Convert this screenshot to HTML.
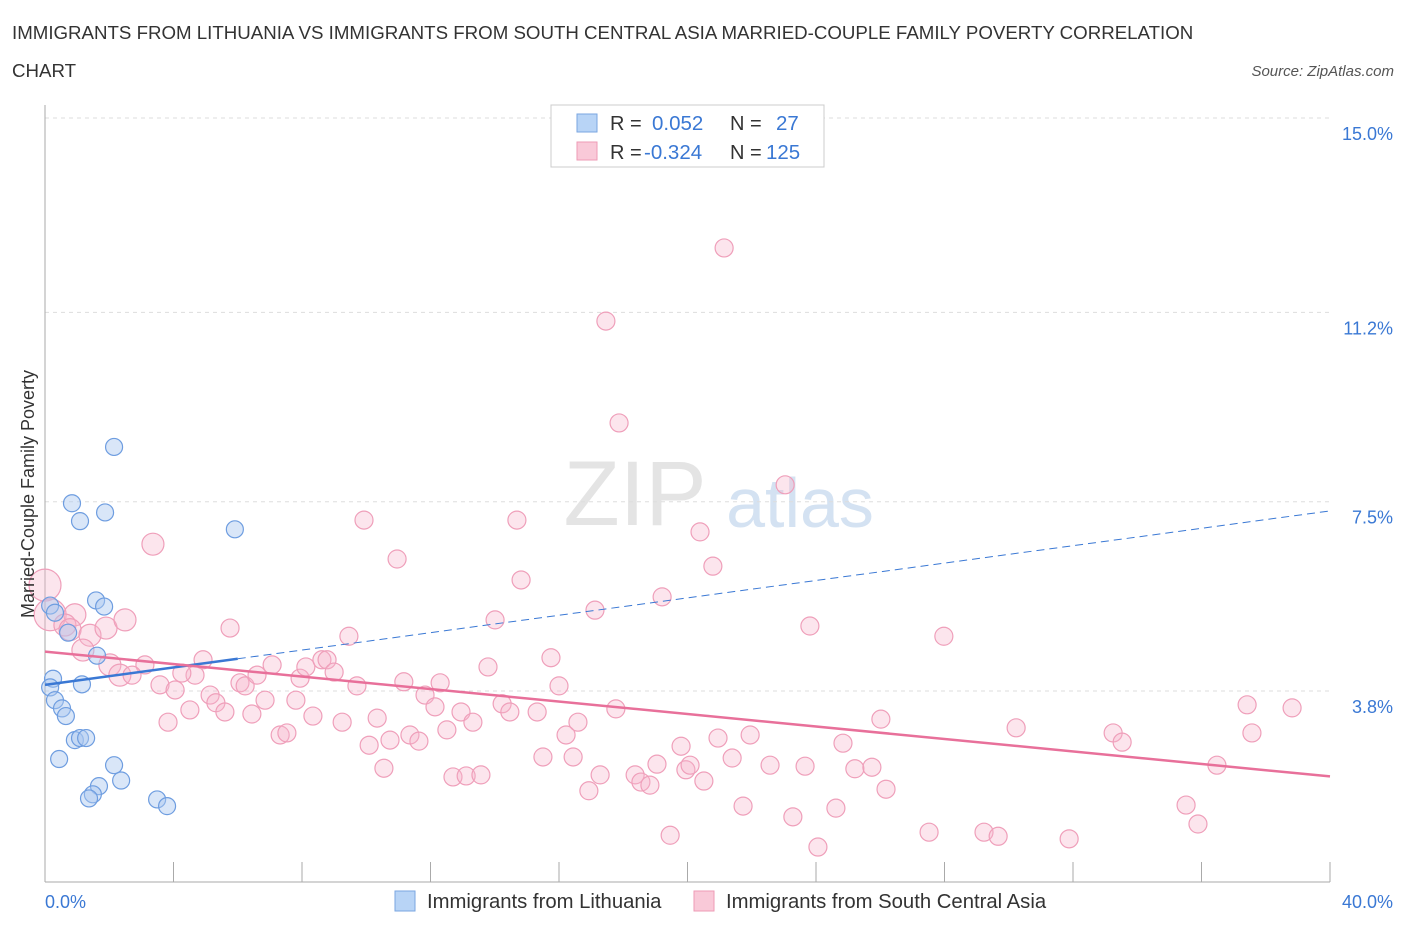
<!DOCTYPE html>
<html><head><meta charset="utf-8"><style>
body{margin:0;background:#fff;font-family:"Liberation Sans",sans-serif;}
svg text{font-family:"Liberation Sans",sans-serif;}
</style></head><body>
<svg id="chart" width="1406" height="930" xmlns="http://www.w3.org/2000/svg">
<text x="12" y="39" font-size="18.7" fill="#333">IMMIGRANTS FROM LITHUANIA VS IMMIGRANTS FROM SOUTH CENTRAL ASIA MARRIED-COUPLE FAMILY POVERTY CORRELATION</text>
<text x="12" y="77" font-size="18.7" fill="#333">CHART</text>
<text x="1394" y="76" font-size="15" font-style="italic" fill="#555" text-anchor="end">Source: ZipAtlas.com</text>
<g>
<text x="635" y="525" font-size="92" font-family="Liberation Serif" fill="#e4e4e4" text-anchor="middle">ZIP</text>
<text x="800" y="527" font-size="70" fill="#d4e2f2" text-anchor="middle">atlas</text>
</g>
<g id="grid"></g><g id="axes"></g><g id="marks"></g>
<text transform="translate(34,494) rotate(-90)" font-size="18" fill="#333" text-anchor="middle">Married-Couple Family Poverty</text>
<g>
<rect x="551" y="105" width="273" height="62" fill="#fff" stroke="#ccc"/>
<rect x="577" y="114" width="20" height="18" fill="#b8d4f6" stroke="#7aa6e0"/>
<rect x="577" y="142" width="20" height="18" fill="#f9c9d8" stroke="#ee9bb6"/>
<text x="610" y="130" font-size="20" fill="#333">R =</text><text x="652" y="130" font-size="20.5" fill="#3a78d4">0.052</text>
<text x="730" y="130" font-size="20" fill="#333">N =</text><text x="776" y="130" font-size="20.5" fill="#3a78d4">27</text>
<text x="610" y="159" font-size="20" fill="#333">R =</text><text x="644" y="159" font-size="20.5" fill="#3a78d4">-0.324</text>
<text x="730" y="159" font-size="20" fill="#333">N =</text><text x="766" y="159" font-size="20.5" fill="#3a78d4">125</text>
</g>
<g>
<rect x="395" y="891" width="20" height="20" fill="#b8d4f6" stroke="#7aa6e0"/>
<text x="427" y="908" font-size="20.3" fill="#333">Immigrants from Lithuania</text>
<rect x="694" y="891" width="20" height="20" fill="#f9c9d8" stroke="#ee9bb6"/>
<text x="726" y="908" font-size="20.3" fill="#333">Immigrants from South Central Asia</text>
</g>
</svg>
<script>
const yTicks=[15.0,11.2,7.5,3.8];
const yTickLabels=["15.0%","11.2%","7.5%","3.8%"];
const xTickLabels=["0.0%","40.0%"];
const blueX=[2.15,0.84,1.09,1.87,5.91,1.59,1.84,0.16,0.31,0.72,1.62,0.25,0.16,1.15,0.31,0.53,0.65,0.93,1.09,1.28,0.44,2.15,1.68,2.37,1.49,1.37,3.49,3.80];
const blueY=[8.57,7.47,7.12,7.29,6.96,5.57,5.45,5.47,5.33,4.94,4.49,4.04,3.87,3.93,3.62,3.46,3.31,2.84,2.88,2.88,2.47,2.35,1.94,2.05,1.78,1.70,1.68,1.55];
const pinkX=[
0,0.16,0.93,0.62,0.78,1.40,1.90,2.49,1.18,2.02,
2.33,3.36,3.11,2.71,3.58,4.05,3.83,4.51,4.67,4.26,
4.92,5.14,5.32,5.60,5.76,6.07,6.23,6.44,6.60,6.85,
7.07,7.32,7.53,7.81,7.94,8.12,8.34,8.62,8.78,9.00,
9.25,9.46,9.71,9.93,10.09,10.34,10.55,10.74,10.96,11.17,
11.36,11.64,11.83,12.14,12.30,12.51,12.70,12.95,13.11,13.32,
13.57,13.79,14.01,14.23,14.47,14.69,14.82,15.32,15.50,15.75,
16.00,16.22,16.44,16.59,16.93,17.12,17.28,17.46,17.77,17.87,
18.37,18.55,18.83,19.05,19.21,19.46,19.80,19.95,20.08,20.39,
20.51,20.79,20.95,21.14,21.39,21.73,21.95,22.57,23.04,23.28,
23.66,23.81,24.06,24.62,24.84,25.21,25.74,26.02,26.18,27.52,
27.98,29.23,29.67,30.23,31.88,33.25,33.53,35.52,35.89,36.48,
37.42,37.57,38.82];
const pinkY=[
5.87,5.29,5.29,5.09,5.00,4.89,5.03,5.19,4.60,4.31,
4.11,6.67,4.31,4.11,3.92,3.82,3.19,3.43,4.11,4.15,
4.41,3.72,3.57,3.39,5.03,3.96,3.90,3.35,4.11,3.62,
4.31,2.94,2.98,3.62,4.05,4.27,3.31,4.41,4.41,4.17,
3.19,4.87,3.90,7.14,2.74,3.27,2.29,2.84,6.38,3.98,
2.94,2.82,3.72,3.49,3.96,3.04,2.12,3.39,2.14,3.19,
2.16,4.27,5.19,3.55,3.39,7.14,5.97,3.39,2.51,4.45,
3.90,2.94,2.51,3.19,1.85,5.38,2.16,11.03,3.45,9.04,
2.16,2.02,1.96,2.37,5.64,0.98,2.72,2.26,2.35,6.91,
2.04,6.24,2.88,12.46,2.49,1.55,2.94,2.35,7.83,1.34,
2.33,5.07,0.75,1.51,2.78,2.28,2.31,3.25,1.88,1.04,
4.87,1.04,0.96,3.08,0.91,2.98,2.80,1.57,1.20,2.35,
3.53,2.98,3.47];
const S="http://www.w3.org/2000/svg";
const X0=45,X1=1330,Y15=118,PPU=51.16;
const xs=v=>X0+(v/40)*(X1-X0);
const ys=v=>Y15+(15-v)*PPU;
function mk(tag,attrs,parent){const e=document.createElementNS(S,tag);for(const k in attrs)e.setAttribute(k,attrs[k]);document.getElementById(parent).appendChild(e);return e;}
yTicks.forEach((t,i)=>{
 const g=mk('line',{x1:X0,x2:X1,y1:ys(t),y2:ys(t),stroke:'#ddd','stroke-dasharray':'4,4'},'grid');
 
 
 const tx=mk('text',{x:1393,y:ys(t)+22,'font-size':18,fill:'#3a78d4','text-anchor':'end'},'axes');
 tx.textContent=yTickLabels[i];
 
 
});
const ax=mk('line',{x1:X0,x2:X0,y1:105,y2:882,stroke:'#aaa'},'axes');


const bx=mk('line',{x1:X0,x2:X1,y1:882,y2:882,stroke:'#aaa'},'axes');


for(let i=0;i<=10;i++){const t=mk('line',{x1:xs(i*4),x2:xs(i*4),y1:862,y2:882,stroke:'#aaa'},'axes');
 
 }
[[0,xTickLabels[0],'start',45],[40,xTickLabels[1],'end',1393]].forEach(([v,l,a,x])=>{const t=mk('text',{x:x,y:908,'font-size':18,fill:'#3a78d4','text-anchor':a},'axes');t.textContent=l;
 
 });
pinkX.forEach((v,i)=>{const r=i<2?16:(i<12?11:9);const c=mk('circle',{cx:xs(v),cy:ys(pinkY[i]),r:r,fill:'rgba(246,180,202,0.35)',stroke:'#ef9fba','stroke-width':1.2},'marks');
 
 });
blueX.forEach((v,i)=>{const c=mk('circle',{cx:xs(v),cy:ys(blueY[i]),r:8.5,fill:'rgba(170,200,240,0.45)',stroke:'#6e9de0','stroke-width':1.2},'marks');
 
 });
const bA=3.92,bB=0.085;
const l1=mk('line',{x1:xs(0),y1:ys(bA),x2:xs(6),y2:ys(bA+bB*6),stroke:'#3a78d4','stroke-width':2.5},'marks');


const l2=mk('line',{x1:xs(6),y1:ys(bA+bB*6),x2:xs(40),y2:ys(bA+bB*40),stroke:'#3a78d4','stroke-width':1,'stroke-dasharray':'8,5'},'marks');


const pA=4.57,pB=-0.061;
const l3=mk('line',{x1:xs(0),y1:ys(pA),x2:xs(40),y2:ys(pA+pB*40),stroke:'#e8709a','stroke-width':2.5},'marks');


</script>
</body></html>
